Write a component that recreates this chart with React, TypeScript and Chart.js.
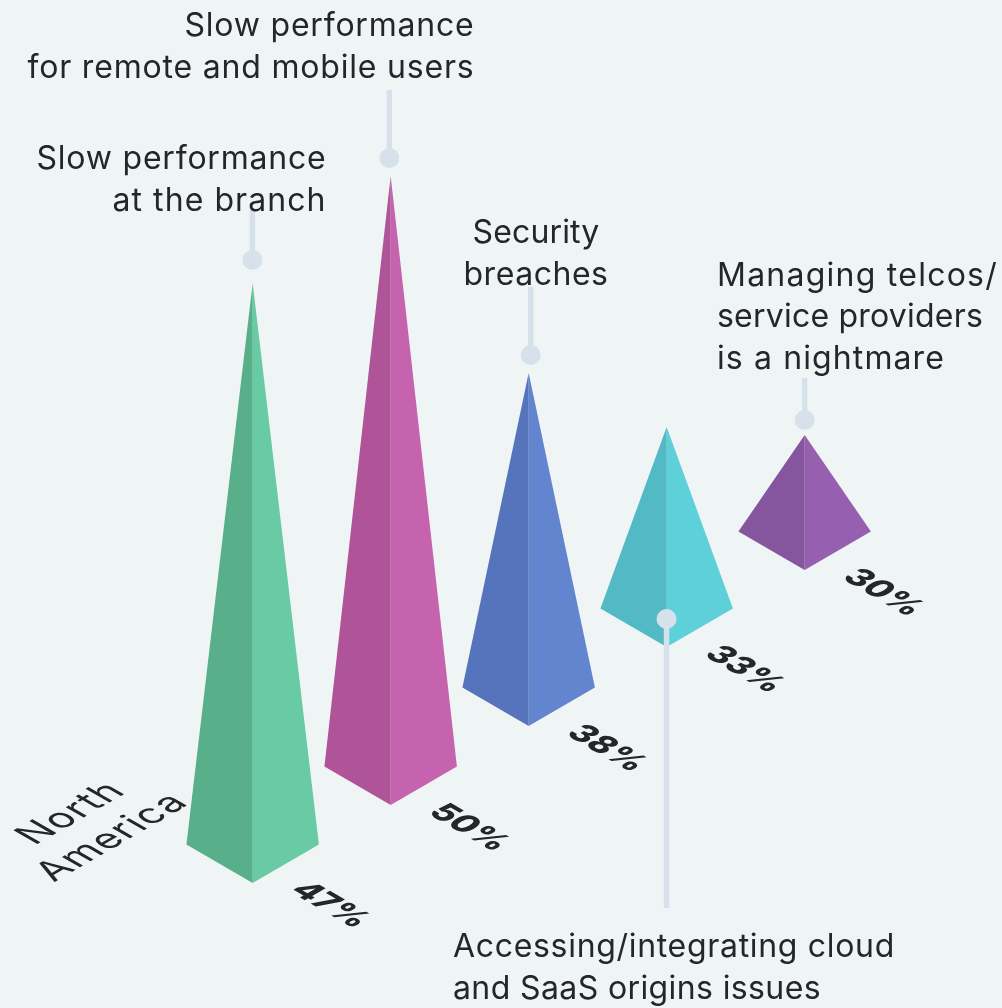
import React, { useEffect, useRef } from "react";
import { Chart, registerables } from "chart.js";

Chart.register(...registerables);

// ---- data ----
const categories = [
  "Slow performance at the branch",
  "Slow performance for remote and mobile users",
  "Security breaches",
  "Accessing/integrating cloud and SaaS origins issues",
  "Managing telcos/service providers is a nightmare",
];
const percentValues = [47, 50, 38, 33, 30];
const pyramidHeights = [600, 629, 353, 220, 135];
const frontLevels = [125, 203, 282, 361, 438];
const leaderPositions = [-0.002, 0.99, 2.015, 2.999, 4];
const leaderDotLevels = [748, 850, 653, 389, 588];
const leaderEndLevels = [798, 918, 721, 100, 630];
const leftColors = ["#58af8a", "#b0549a", "#5674bb", "#52b9c5", "#85559d"];
const rightColors = ["#69cba5", "#c563ae", "#6384cf", "#5dd0da", "#975fb0"];

// ---- layout ----
const W = 1002;
const H = 1008;
const BG = "#eff5f5";
const LEADER = "#d7e1ec";
const INK = "#242628";
const HALF = 0.48;
const SHOULDER = 38.5;
const FONT = "Inter";
const SIZE = 32;

type Lbl = { lines: string[]; widths: number[]; x: number; y: number; align: CanvasTextAlign };
const labels: Lbl[] = [
  { lines: ["Slow performance", "for remote and mobile users"], widths: [290, 447], x: 474.5, y: 36, align: "right" },
  { lines: ["Slow performance", "at the branch"], widths: [290, 214], x: 326.5, y: 169, align: "right" },
  { lines: ["Security", "breaches"], widths: [127, 145], x: 536, y: 243, align: "center" },
  { lines: ["Managing telcos/", "service providers", "is a nightmare"], widths: [281, 266, 228], x: 717, y: 285.5, align: "left" },
  { lines: ["Accessing/integrating cloud", "and SaaS origins issues"], widths: [442, 368], x: 453, y: 957, align: "left" },
];

const textPlugin = {
  id: "pyramidText",
  afterDraw(chart: any) {
    const { ctx, scales } = chart;
    ctx.save();
    ctx.fillStyle = INK;
    ctx.textBaseline = "alphabetic";
    ctx.font = `400 ${SIZE}px ${FONT}`;
    labels.forEach((l) => {
      ctx.textAlign = l.align;
      l.lines.forEach((t, i) => {
        (ctx as any).letterSpacing = "0px";
        const natural = ctx.measureText(t).width;
        (ctx as any).letterSpacing = `${(l.widths[i] - natural) / t.length}px`;
        ctx.fillText(t, l.x, l.y + i * 41.5);
      });
    });
    // percent labels, lying on the floor plane
    ctx.font = `800 33px ${FONT}`;
    (ctx as any).letterSpacing = "0px";
    ctx.textAlign = "left";
    percentValues.forEach((v, i) => {
      const px = scales.x.getPixelForValue(i);
      const py = scales.y.getPixelForValue(frontLevels[i]);
      ctx.save();
      ctx.transform(0.866, 0.5, -0.866, 0.5, px + 36, py + 8);
      ctx.fillText(`${v}%`, 0, 0);
      ctx.restore();
    });
    // region label
    ctx.font = `400 38px ${FONT}`;
    (ctx as any).letterSpacing = "1.2px";
    ctx.textAlign = "center";
    [["North", 81, 819], ["America", 122, 843]].forEach(([t, x, y]) => {
      ctx.save();
      ctx.transform(0.866, -0.5, 0.866, 0.5, x as number, y as number);
      ctx.fillText(t as string, 0, 0);
      ctx.restore();
    });
    ctx.restore();
  },
};

export default function App() {
  const ref = useRef<HTMLCanvasElement>(null);
  useEffect(() => {
    document.body.style.margin = "0";
    const faces = (side: number, colors: string[]) =>
      categories.map((c, i) => ({
        label: `${c} ${side < 0 ? "left" : "right"}`,
        data: [
          { x: i, y: frontLevels[i] + pyramidHeights[i] },
          { x: i + side * HALF, y: frontLevels[i] + SHOULDER },
          { x: i, y: frontLevels[i] },
          { x: i, y: frontLevels[i] + pyramidHeights[i] },
        ],
        showLine: true,
        fill: "shape",
        backgroundColor: colors[i],
        borderWidth: 0,
        borderColor: colors[i],
        pointRadius: 0,
        tension: 0,
      }));
    const leaders = categories.map((c, i) => ({
      label: `${c} leader`,
      data: [
        { x: leaderPositions[i], y: leaderDotLevels[i] },
        { x: leaderPositions[i], y: leaderEndLevels[i] },
      ],
      showLine: true,
      fill: false,
      borderColor: LEADER,
      borderWidth: 5.5,
      borderCapStyle: "butt",
      backgroundColor: LEADER,
      pointBackgroundColor: LEADER,
      pointBorderWidth: 0,
      pointRadius: [10, 0],
    }));
    const chart = new Chart(ref.current!, {
      type: "scatter",
      data: { datasets: [...leaders, ...faces(-1, leftColors), ...faces(1, rightColors)] as any },
      options: {
        animation: false,
        responsive: false,
        layout: { padding: 0, autoPadding: false },
        plugins: { legend: { display: false }, tooltip: { enabled: false } },
        scales: {
          x: { type: "linear", display: false, min: -1.831, max: 5.43 },
          y: { type: "linear", display: false, min: 0, max: 1008 },
        },
      },
      plugins: [textPlugin],
    });
    return () => chart.destroy();
  }, []);
  return (
    <canvas
      ref={ref}
      width={W}
      height={H}
      style={{ display: "block", width: W, height: H, background: BG }}
    />
  );
}
